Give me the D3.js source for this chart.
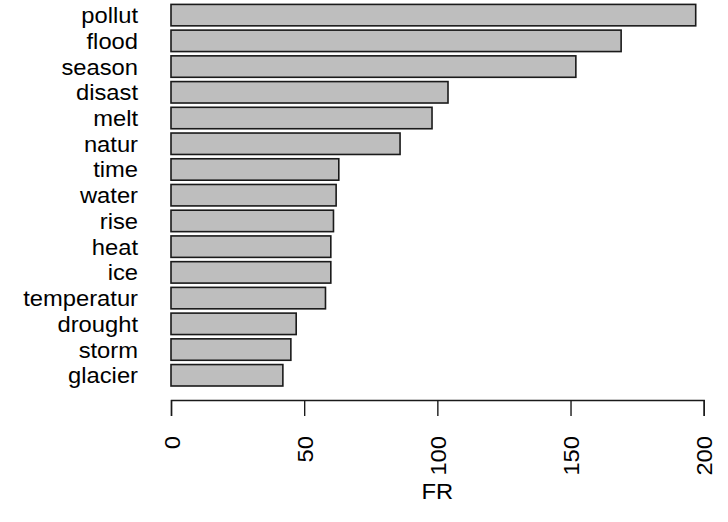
<!DOCTYPE html>
<html>
<head>
<meta charset="utf-8">
<script src="https://cdn.jsdelivr.net/npm/d3@7"></script>
<style>
  html, body { margin: 0; padding: 0; background: #fff; }
  svg { display: block; }
  text { font-family: "Liberation Sans", Arial, sans-serif; fill: #000; }
</style>
</head>
<body>
<script>
const categories = ["pollut", "flood", "season", "disast", "melt", "natur", "time", "water", "rise", "heat", "ice", "temperatur", "drought", "storm", "glacier"];
const values = [197, 169, 152, 104, 98, 86, 63, 62, 61, 60, 60, 58, 47, 45, 42];
const tickValues = [0, 50, 100, 150, 200];
const tickLabels = ["0", "50", "100", "150", "200"];
const axisTitle = "FR";

const W = 728, H = 522;
const svg = d3.select("body").append("svg").attr("width", W).attr("height", H);

const x = d3.scaleLinear().domain([0, 200]).range([171, 703.7]);
const y = d3.scaleBand().domain(categories).range([4.4, 386]).paddingInner(1/6).paddingOuter(0);

const fs = 22, sx = 1.08;

// bars
svg.append("g").selectAll("rect")
  .data(categories.map((c, i) => ({c, v: values[i]})))
  .join("rect")
  .attr("x", x(0))
  .attr("y", d => y(d.c))
  .attr("width", d => x(d.v) - x(0))
  .attr("height", y.bandwidth())
  .attr("fill", "#bebebe")
  .attr("stroke", "#1a1a1a")
  .attr("stroke-width", 1.6);

// category labels
svg.append("g").selectAll("text")
  .data(categories)
  .join("text")
  .attr("transform", d => `translate(138,${y(d) + y.bandwidth() / 2 + 8}) scale(${sx},1)`)
  .attr("text-anchor", "end")
  .attr("font-size", fs)
  .text(d => d);

// x axis
const axisY = 400;
const axis = d3.axisBottom(x).tickValues(tickValues).tickFormat((d, i) => tickLabels[i]).tickSizeOuter(0).tickSize(16);
const gAxis = svg.append("g").attr("transform", `translate(0,${axisY})`).call(axis);
gAxis.select(".domain").attr("stroke", "#1a1a1a").attr("stroke-width", 1.4);
gAxis.selectAll(".tick line").attr("stroke", "#1a1a1a").attr("stroke-width", 1.4);
gAxis.selectAll(".tick text")
  .attr("font-family", "Liberation Sans, Arial, sans-serif")
  .attr("font-size", fs)
  .attr("fill", "#000")
  .attr("text-anchor", "end")
  .attr("dy", null)
  .attr("y", null)
  .attr("transform", `translate(8,36) rotate(-90) scale(${sx},1)`);

// axis title
svg.append("text")
  .attr("transform", `translate(${(x(0) + x(200)) / 2},499) scale(${sx},1)`)
  .attr("text-anchor", "middle")
  .attr("font-size", fs)
  .text(axisTitle);
</script>
</body>
</html>
